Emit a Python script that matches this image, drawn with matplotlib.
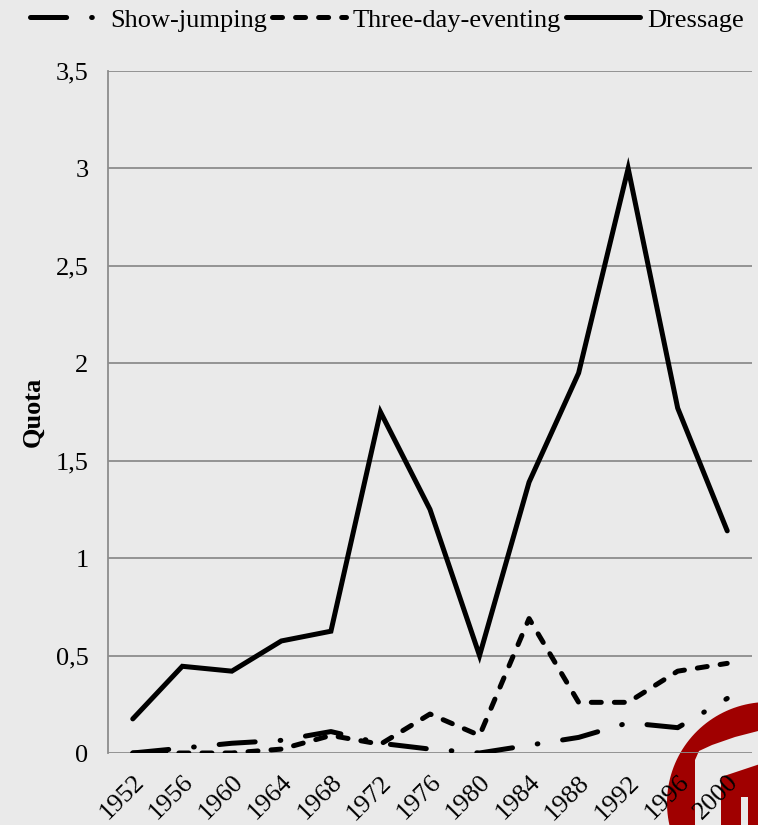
import numpy as np
import matplotlib
matplotlib.use("Agg")
import matplotlib.pyplot as plt
from matplotlib.patches import Polygon

plt.rcParams['font.family'] = ['Liberation Serif', 'DejaVu Serif']
plt.rcParams['lines.scale_dashes'] = False

# data
years = [1952, 1956, 1960, 1964, 1968, 1972, 1976, 1980, 1984, 1988, 1992, 1996, 2000]
show_jumping = [0.0, 0.025, 0.05, 0.065, 0.11, 0.05, 0.02, 0.0, 0.04, 0.08, 0.155, 0.13, 0.28]
three_day = [0.0, 0.0, 0.0, 0.02, 0.09, 0.045, 0.2, 0.09, 0.69, 0.26, 0.26, 0.42, 0.46]
dressage = [0.175, 0.445, 0.42, 0.575, 0.625, 1.75, 1.25, 0.5, 1.39, 1.95, 3.0, 1.77, 1.14]
yticks = [0, 0.5, 1, 1.5, 2, 2.5, 3, 3.5]
ytick_labels = ['0', '0,5', '1', '1,5', '2', '2,5', '3', '3,5']

bg = '#EAEAEA'
fig = plt.figure(figsize=(7.58, 8.25), dpi=100, facecolor=bg)
ax = fig.add_axes([108/758, 1 - 753/825, (752-108)/758, (753-71)/825])
ax.set_facecolor('none')

# red logo in the corner (behind the chart)
def px(x, y):
    return (x/758, 1 - y/825)

t = np.radians(np.linspace(165, 275, 50))
outer = [px(768 + 101*np.cos(a), 803 + 101*np.sin(a)) for a in t]
inner = [px(762, 730), px(735, 737), px(712, 745), px(699, 751), px(695, 760), px(695, 830)]
fig.add_artist(Polygon(outer + inner, closed=True, transform=fig.transFigure,
                       facecolor='#A00000', edgecolor='none', zorder=-1))
block = [px(721, 830), px(721, 777), px(760, 764), px(760, 830), px(748, 830),
         px(748, 797), px(741, 797), px(741, 830)]
fig.add_artist(Polygon(block, closed=True, transform=fig.transFigure,
                       facecolor='#A00000', edgecolor='none', zorder=-1))

lw = 3.6
ax.plot(years, show_jumping, color='black', lw=lw, linestyle=(0, (26, 18, 0.5, 18)),
        dash_capstyle='round', label='Show-jumping')
ax.plot(years, three_day, color='black', lw=lw, linestyle=(0, (7.2, 9.4)),
        dash_capstyle='round', label='Three-day-eventing')
ax.plot(years, dressage, color='black', lw=lw, solid_capstyle='round',
        solid_joinstyle='miter', label='Dressage')

ax.set_xlim(1950, 2002)
ax.set_ylim(0, 3.5)
ax.set_yticks(yticks)
ax.set_yticklabels(ytick_labels, fontsize=19)
ax.set_xticks(years)
ax.set_xticklabels([str(y) for y in years], fontsize=19, rotation=45,
                   ha='right', va='top', rotation_mode='anchor')
ax.tick_params(length=0, pad=14)
ax.tick_params(axis='x', pad=13)
ax.grid(axis='y', color='#8C8C8C', lw=1.3)
ax.set_axisbelow(True)
for s in ['top', 'right', 'bottom']:
    ax.spines[s].set_visible(False)
ax.spines['left'].set_color('#8C8C8C')
ax.spines['left'].set_linewidth(1.3)

ax.set_ylabel('Quota', fontsize=19, fontweight='bold', labelpad=8)

fig.legend(loc='center', bbox_to_anchor=(0.51, 1 - 20/825), ncol=3, frameon=False,
           fontsize=19, handlelength=2.8, handletextpad=0.25, columnspacing=0.2)

fig.savefig('out.png', dpi=100, facecolor=bg)
